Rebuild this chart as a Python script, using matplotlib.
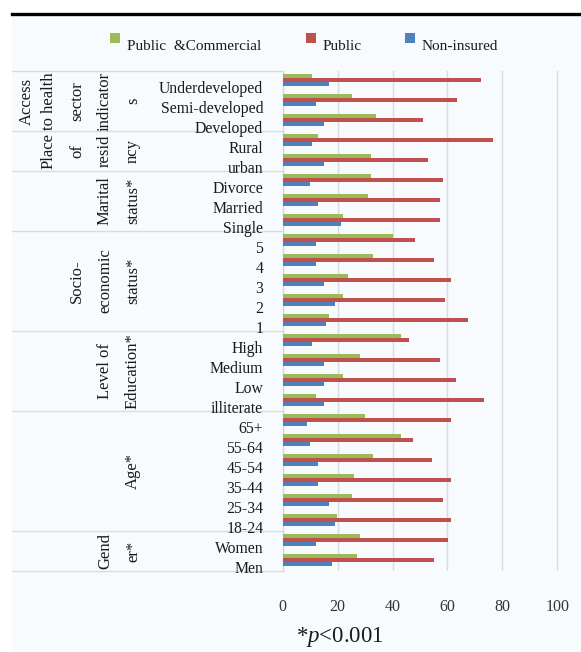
import numpy as np
import matplotlib
matplotlib.use("Agg")
import matplotlib.pyplot as plt
from matplotlib.patches import Rectangle
from matplotlib.lines import Line2D
from matplotlib.transforms import blended_transform_factory

plt.rcParams["font.family"] = ["Liberation Serif", "DejaVu Serif"]
plt.rcParams["mathtext.fontset"] = "custom"
plt.rcParams["mathtext.it"] = "Liberation Serif:italic"
plt.rcParams["mathtext.rm"] = "Liberation Serif"

# categories top to bottom
categories = ["Underdeveloped", "Semi-developed", "Developed", "Rural", "urban",
              "Divorce", "Married", "Single", "5", "4", "3", "2", "1",
              "High", "Medium", "Low", "illiterate",
              "65+", "55-64", "45-54", "35-44", "25-34", "18-24",
              "Women", "Men"]
pub_com = [10.7, 25.2, 34.1, 12.8, 32.1, 32.1, 30.9, 21.8, 40.0, 32.9, 23.9, 21.8, 17.0,
           43.2, 28.0, 21.8, 12.0, 30.1, 43.2, 32.9, 26.0, 25.1, 19.9, 28.0, 27.2]
public = [72.4, 63.4, 51.1, 76.5, 53.0, 58.4, 57.2, 57.2, 48.2, 55.1, 61.2, 59.1, 67.4,
          46.1, 57.2, 63.3, 73.5, 61.2, 47.3, 54.3, 61.2, 58.4, 61.2, 60.4, 55.1]
non_ins = [17.0, 12.0, 14.9, 10.7, 14.9, 9.9, 12.8, 21.1, 12.0, 12.0, 14.9, 19.0, 15.7,
           10.7, 14.9, 14.9, 14.9, 8.7, 9.9, 12.8, 12.8, 17.0, 19.0, 12.0, 17.8]
series_names = ["Public  &Commercial", "Public", "Non-insured"]
group_sizes = [3, 2, 3, 5, 4, 6, 2]
group_lines = [["Access", "to health", "sector", "indicator", "s"],
               ["Place", "of", "resid", "ncy"],
               ["Marital", "status*"],
               ["Socio-", "economic", "status*"],
               ["Level of", "Education*"],
               ["Age*"],
               ["Gend", "er*"]]
xticks = [0, 20, 40, 60, 80, 100]

GREEN, RED, BLUE = "#9bbb59", "#c0504d", "#4f81bd"
W, H = 581, 652
BG = "#f7fbfd"
GRID = "#d5dbe9"

fig = plt.figure(figsize=(W / 100, H / 100), dpi=100)
fig.patch.set_facecolor("white")
fig.patches.append(Rectangle((12 / W, 0), 1, 1 - 14 / H, transform=fig.transFigure,
                             facecolor=BG, edgecolor="none", zorder=-10))
fig.lines.append(Line2D([12 / W, 1], [1 - 13.5 / H, 1 - 13.5 / H],
                        transform=fig.transFigure, color="black", linewidth=2.4))

# axes spans slightly past 100 so the last gridline is not clipped
x0, x100, ytop, ybot = 282.7, 557.2, 71, 571
xmax = 101.5
x1 = x0 + (x100 - x0) * xmax / 100
ax = fig.add_axes([x0 / W, 1 - ybot / H, (x1 - x0) / W, (ybot - ytop) / H])
ax.set_facecolor("none")

n = len(categories)
y = np.arange(n)
h = 0.2
ax.barh(y + 0.25, pub_com, height=h, color=GREEN, zorder=3)
ax.barh(y + 0.45, public, height=h, color=RED, zorder=3)
ax.barh(y + 0.65, non_ins, height=h, color=BLUE, zorder=3)

ax.set_xlim(0, xmax)
ax.set_ylim(n, 0)
ax.set_xticks(xticks)
ax.set_xticklabels([str(t) for t in xticks], fontsize=11.5, color="#333333")
ax.tick_params(axis="x", length=0, pad=20)
ax.set_yticks(y + 0.82)
ax.set_yticklabels(categories, fontsize=11.3, color="#1a1a1a")
ax.tick_params(axis="y", length=0, pad=14)
ax.grid(axis="x", color=GRID, linewidth=1.0, zorder=0)
for s in ["top", "right", "bottom"]:
    ax.spines[s].set_visible(False)
ax.spines["left"].set_color(GRID)
ax.spines["left"].set_linewidth(1.0)

# group separators and rotated group labels
blend = blended_transform_factory(fig.transFigure, ax.transData)
cols = [133, 105, 77, 49, 27]
bounds = np.concatenate([[0], np.cumsum(group_sizes)])
for b in bounds:
    ax.plot([12 / W, x0 / W], [b, b], transform=blend, color=GRID,
            linewidth=1.0, clip_on=False, zorder=0)
for i, lines in enumerate(group_lines):
    yc = (bounds[i] + bounds[i + 1]) / 2
    for j, line in enumerate(reversed(lines)):
        ax.text(cols[j] / W, yc, line, transform=blend, rotation=90,
                ha="center", va="center", fontsize=12, color="#1a1a1a")

# legend
for (xs, xt), c, name in zip([(110, 127), (306, 323), (405, 422)],
                             [GREEN, RED, BLUE], series_names):
    fig.patches.append(Rectangle((xs / W, 1 - 43 / H), 10 / W, 10 / H,
                                 transform=fig.transFigure, facecolor=c,
                                 edgecolor="none"))
    fig.text(xt / W, 1 - 46 / H, name, ha="left", va="center",
             fontsize=11, color="#1a1a1a")

fig.text(296 / W, 1 - 642 / H, r"*$p$<0.001", ha="left", va="baseline",
         fontsize=16.5, color="#1a1a1a")

fig.savefig("out.png", dpi=100, facecolor=fig.get_facecolor())
